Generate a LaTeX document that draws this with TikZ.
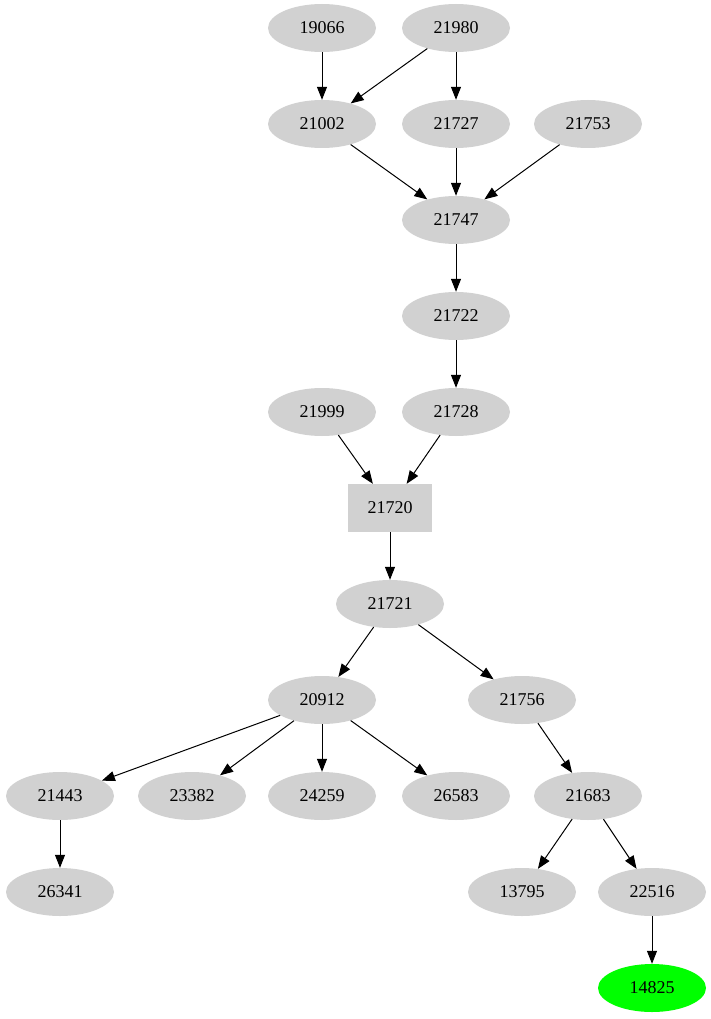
\documentclass[tikz,border=0pt]{standalone}
\usepackage{fontspec}
\setmainfont{Liberation Serif}
\usetikzlibrary{arrows.meta}
\usetikzlibrary{shapes.geometric}
\tikzstyle{idnode} = [fill=black!18, ellipse, minimum width=108pt, minimum height=48pt, inner sep=0pt, font=\fontsize{18}{20}\selectfont]
\tikzstyle{boxnode} = [fill=black!18, rectangle, minimum width=84pt, minimum height=48pt, inner sep=0pt, font=\fontsize{18}{20}\selectfont]
\tikzstyle{edge} = [-{Triangle[length=13pt,width=10pt]}, line width=1pt]

\begin{document}
\begin{tikzpicture}[x=1pt, y=-1pt]
  \useasboundingbox (0,0) rectangle (711,1019);
  \node[idnode] (n19066) at (322,28) {19066};
  \node[idnode] (n21980) at (456,28) {21980};
  \node[idnode] (n21002) at (322,124) {21002};
  \node[idnode] (n21727) at (456,124) {21727};
  \node[idnode] (n21753) at (588,124) {21753};
  \node[idnode] (n21747) at (456,220) {21747};
  \node[idnode] (n21722) at (456,316) {21722};
  \node[idnode] (n21999) at (322,412) {21999};
  \node[idnode] (n21728) at (456,412) {21728};
  \node[boxnode] (n21720) at (390,508) {21720};
  \node[idnode] (n21721) at (390,604) {21721};
  \node[idnode] (n20912) at (322,700) {20912};
  \node[idnode] (n21756) at (522,700) {21756};
  \node[idnode] (n21443) at (60,796) {21443};
  \node[idnode] (n23382) at (192,796) {23382};
  \node[idnode] (n24259) at (322,796) {24259};
  \node[idnode] (n26583) at (456,796) {26583};
  \node[idnode] (n21683) at (588,796) {21683};
  \node[idnode] (n26341) at (60,892) {26341};
  \node[idnode] (n13795) at (522,892) {13795};
  \node[idnode] (n22516) at (652,892) {22516};
  \node[idnode, fill=green] (n14825) at (652,988) {14825};

  \draw[edge] (n19066) -- (n21002);
  \draw[edge] (n21980) -- (n21002);
  \draw[edge] (n21980) -- (n21727);
  \draw[edge] (n21002) -- (n21747);
  \draw[edge] (n21727) -- (n21747);
  \draw[edge] (n21753) -- (n21747);
  \draw[edge] (n21747) -- (n21722);
  \draw[edge] (n21722) -- (n21728);
  \draw[edge] (n21999) -- (n21720);
  \draw[edge] (n21728) -- (n21720);
  \draw[edge] (n21720) -- (n21721);
  \draw[edge] (n21721) -- (n20912);
  \draw[edge] (n21721) -- (n21756);
  \draw[edge] (n20912) -- (n21443);
  \draw[edge] (n20912) -- (n23382);
  \draw[edge] (n20912) -- (n24259);
  \draw[edge] (n20912) -- (n26583);
  \draw[edge] (n21756) -- (n21683);
  \draw[edge] (n21443) -- (n26341);
  \draw[edge] (n21683) -- (n13795);
  \draw[edge] (n21683) -- (n22516);
  \draw[edge] (n22516) -- (n14825);
\end{tikzpicture}
\end{document}
